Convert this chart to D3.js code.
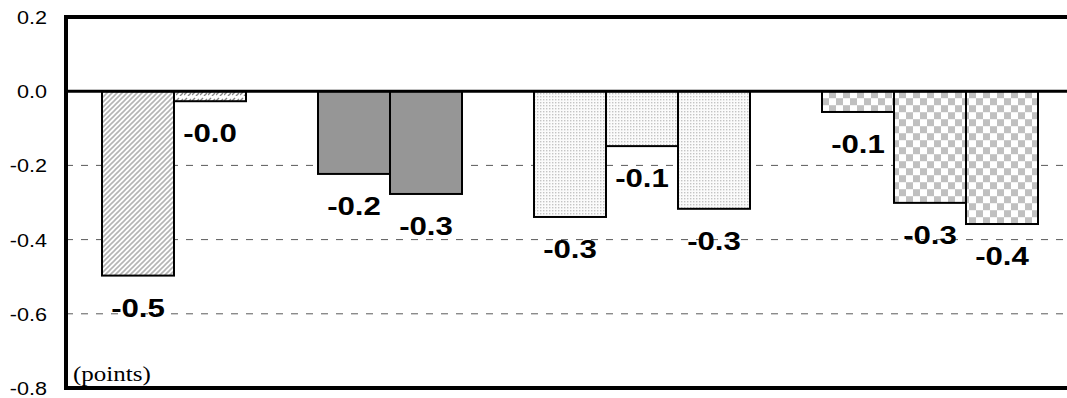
<!DOCTYPE html>
<html>
<head>
<meta charset="utf-8">
<script src="https://cdn.jsdelivr.net/npm/d3@7"></script>
<style>
  html, body { margin: 0; padding: 0; background: #fff; }
  svg { display: block; }
</style>
</head>
<body>
<svg id="chart" width="1067" height="398"></svg>
<script>
// Change by group (points)
const group1Values = [-0.497, -0.027];
const group2Values = [-0.223, -0.277];
const group3Values = [-0.339, -0.148, -0.317];
const group4Values = [-0.056, -0.301, -0.358];
const groupFills = [
  ["hatch", "dashhatch"],
  ["solid", "solid"],
  ["dots", "dots", "dots"],
  ["checker", "checker", "checker"]
];
const yTicks = [0.2, 0.0, -0.2, -0.4, -0.6, -0.8];
const gridTicks = [-0.2, -0.4, -0.6];
const unitLabel = "(points)";

const groups = [group1Values, group2Values, group3Values, group4Values];

const svg = d3.select("#chart");
const W = 1067, H = 398;
const plotLeft = 66, plotTop = 17, plotBottom = 388;
const stretch = 1.2;

// one slot per bar, plus an empty slot after each group
const slots = [];
const bars = [];
groups.forEach((vals, g) => {
  vals.forEach((v, i) => {
    const key = `g${g}-${i}`;
    slots.push(key);
    bars.push({ key, value: v, fill: groupFills[g][i] });
  });
  slots.push(`gap${g}`);
});

const x = d3.scaleBand().domain(slots)
  .range([plotLeft, plotLeft + (slots.length + 1) * 72])
  .paddingInner(0).paddingOuter(0.5);
const y = d3.scaleLinear().domain([-0.8, 0.2]).range([plotBottom, plotTop]);

// fill patterns
const defs = svg.append("defs");
const hatch = defs.append("pattern").attr("id", "hatch")
  .attr("patternUnits", "userSpaceOnUse").attr("width", 5).attr("height", 5);
hatch.append("rect").attr("width", 5).attr("height", 5).attr("fill", "#fff");
hatch.append("path").attr("d", "M-1,1 L1,-1 M0,5 L5,0 M4,6 L6,4")
  .attr("stroke", "#b4b4b4").attr("stroke-width", 1.6);

const dh = defs.append("pattern").attr("id", "dashhatch")
  .attr("patternUnits", "userSpaceOnUse").attr("width", 8).attr("height", 6);
dh.append("rect").attr("width", 8).attr("height", 6).attr("fill", "#fff");
dh.append("path").attr("d", "M0,5 L3,2 M4,6 L7,3")
  .attr("stroke", "#8a8a8a").attr("stroke-width", 1.4);

const dots = defs.append("pattern").attr("id", "dots")
  .attr("patternUnits", "userSpaceOnUse").attr("width", 3).attr("height", 3);
dots.append("rect").attr("width", 3).attr("height", 3).attr("fill", "#fbfbfb");
dots.append("rect").attr("width", 1.4).attr("height", 1.4).attr("fill", "#c4c4c4");

const checker = defs.append("pattern").attr("id", "checker")
  .attr("patternUnits", "userSpaceOnUse").attr("width", 14).attr("height", 14)
  .attr("x", x("g3-0")).attr("y", y(0));
checker.append("rect").attr("width", 14).attr("height", 14).attr("fill", "#fff");
checker.append("rect").attr("x", 7).attr("width", 7).attr("height", 7).attr("fill", "#c0c0c0");
checker.append("rect").attr("y", 7).attr("width", 7).attr("height", 7).attr("fill", "#c0c0c0");

const fillOf = f => f === "solid" ? "#969696" : `url(#${f})`;

// dashed gridlines
svg.append("g").selectAll("line").data(gridTicks).join("line")
  .attr("x1", plotLeft).attr("x2", W)
  .attr("y1", d => y(d)).attr("y2", d => y(d))
  .attr("stroke", "#5a5a5a").attr("stroke-width", 1)
  .attr("stroke-dasharray", "7,8");

// bars
svg.append("g").selectAll("rect").data(bars).join("rect")
  .attr("x", d => x(d.key))
  .attr("width", x.bandwidth())
  .attr("y", d => y(Math.max(0, d.value)))
  .attr("height", d => Math.abs(y(d.value) - y(0)))
  .attr("fill", d => fillOf(d.fill))
  .attr("stroke", "#000").attr("stroke-width", 2);

// zero line
svg.append("line")
  .attr("x1", plotLeft).attr("x2", W)
  .attr("y1", y(0)).attr("y2", y(0))
  .attr("stroke", "#000").attr("stroke-width", 3);

// plot frame (open on the right)
svg.append("path")
  .attr("d", `M${W},${plotTop} H${plotLeft} V${plotBottom} H${W}`)
  .attr("fill", "none").attr("stroke", "#000").attr("stroke-width", 4);

// y axis tick labels
svg.append("g").selectAll("text").data(yTicks).join("text")
  .attr("transform", d => `translate(47,${y(d) + 7}) scale(${stretch},1)`)
  .attr("text-anchor", "end")
  .attr("font-family", "Arial, 'Liberation Sans', sans-serif")
  .attr("font-size", 18)
  .attr("fill", "#000")
  .text(d => d.toFixed(1));

// value labels below each bar
svg.append("g").selectAll("text").data(bars).join("text")
  .attr("transform", d => `translate(${x(d.key) + x.bandwidth() / 2},${y(d.value) + 41}) scale(${stretch},1)`)
  .attr("text-anchor", "middle")
  .attr("font-family", "Arial, 'Liberation Sans', sans-serif")
  .attr("font-weight", "bold")
  .attr("font-size", 26)
  .attr("fill", "#000")
  .text(d => d.value.toFixed(1));

// unit note
svg.append("text")
  .attr("transform", `translate(73,381) scale(1.25,1)`)
  .attr("font-family", "'Times New Roman', 'Liberation Serif', serif")
  .attr("font-size", 20)
  .attr("fill", "#000")
  .text(unitLabel);
</script>
</body>
</html>
